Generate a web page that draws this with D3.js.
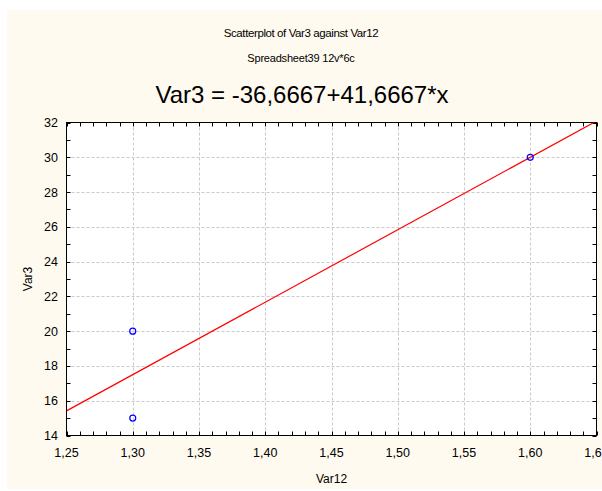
<!DOCTYPE html>
<html>
<head>
<meta charset="utf-8">
<script src="https://cdn.jsdelivr.net/npm/d3@7"></script>
<style>
    body { margin: 0; background: #fff; }
    text { font-family: Arial, "Liberation Sans", sans-serif; }
</style>
</head>
<body>
<div id="chart"></div>
<script>
const var12 = [1.30, 1.30, 1.60];
const var3 = [15, 20, 30];
const intercept = -36.6667;
const slope = 41.6667;

const xTicks = [1.25, 1.30, 1.35, 1.40, 1.45, 1.50, 1.55, 1.60, 1.65];
const yTicks = [14, 16, 18, 20, 22, 24, 26, 28, 30, 32];

const points = var12.map((x, i) => ({ x: x, y: var3[i] }));

const width = 602, height = 491;
const plot = { left: 66.5, right: 596.5, top: 122.5, bottom: 435.5 };

const fmt = d3.format('.2f');
const comma = v => fmt(v).replace('.', ',');

const drawChart = () => {
    const svg = d3.select('#chart')
        .append('svg')
        .attr('width', width)
        .attr('height', height);

    // cream page behind the chart
    svg.append('rect')
        .attr('x', 7).attr('y', 10)
        .attr('width', width - 7).attr('height', 479)
        .style('fill', '#fefaef');

    const x = d3.scaleLinear().domain([1.25, 1.65]).range([plot.left, plot.right]);
    const y = d3.scaleLinear().domain([14, 32]).range([plot.bottom, plot.top]);

    svg.append('rect')
        .attr('x', plot.left).attr('y', plot.top)
        .attr('width', plot.right - plot.left).attr('height', plot.bottom - plot.top)
        .style('fill', '#fff');

    // grid
    svg.selectAll('.gx')
        .data(xTicks.slice(1, -1))
        .enter().append('line')
        .attr('x1', d => Math.round(x(d)) + 0.5).attr('x2', d => Math.round(x(d)) + 0.5)
        .attr('y1', plot.top).attr('y2', plot.bottom)
        .style('stroke', '#cacaca').style('stroke-dasharray', '3,2');

    svg.selectAll('.gy')
        .data(yTicks.slice(1, -1))
        .enter().append('line')
        .attr('y1', d => Math.round(y(d)) + 0.5).attr('y2', d => Math.round(y(d)) + 0.5)
        .attr('x1', plot.left).attr('x2', plot.right)
        .style('stroke', '#cacaca').style('stroke-dasharray', '3,2');

    // inside ticks, minor and major
    const xMinor = d3.range(125, 166, 1).map(v => v / 100);
    const yMinor = d3.range(14, 33, 1);
    const tick = 4;

    [[plot.bottom, -tick], [plot.top, tick]].forEach(([yy, dy]) => {
        svg.append('g').selectAll('line')
            .data(xMinor)
            .enter().append('line')
            .attr('x1', d => Math.round(x(d)) + 0.5).attr('x2', d => Math.round(x(d)) + 0.5)
            .attr('y1', yy).attr('y2', yy + dy)
            .style('stroke', '#000');
    });

    [[plot.left, tick], [plot.right, -tick]].forEach(([xx, dx]) => {
        svg.append('g').selectAll('line')
            .data(yMinor)
            .enter().append('line')
            .attr('y1', d => Math.round(y(d)) + 0.5).attr('y2', d => Math.round(y(d)) + 0.5)
            .attr('x1', xx).attr('x2', xx + dx)
            .style('stroke', '#000');
    });

    // frame
    svg.append('rect')
        .attr('x', plot.left).attr('y', plot.top)
        .attr('width', plot.right - plot.left).attr('height', plot.bottom - plot.top)
        .style('fill', 'none').style('stroke', '#000');

    // regression line, clipped to the plot
    svg.append('clipPath').attr('id', 'clip')
        .append('rect')
        .attr('x', plot.left).attr('y', plot.top)
        .attr('width', plot.right - plot.left).attr('height', plot.bottom - plot.top);

    const fit = v => intercept + slope * v;
    svg.append('line')
        .attr('clip-path', 'url(#clip)')
        .attr('x1', x(1.25)).attr('y1', y(fit(1.25)))
        .attr('x2', x(1.65)).attr('y2', y(fit(1.65)))
        .style('stroke', '#ff0000')
        .style('stroke-width', 1.2);

    svg.selectAll('.pt')
        .data(points)
        .enter().append('circle')
        .attr('cx', d => x(d.x))
        .attr('cy', d => y(d.y))
        .attr('r', 3)
        .style('fill', 'none')
        .style('stroke', '#0000ff')
        .style('stroke-width', 1.2);

    // tick labels (the last one runs off the page, as in the original)
    svg.selectAll('.xl')
        .data(xTicks)
        .enter().append('text')
        .attr('x', d => x(d))
        .attr('y', 457)
        .attr('text-anchor', 'middle')
        .style('font-size', '12.5px')
        .text(d => comma(d));

    svg.selectAll('.yl')
        .data(yTicks)
        .enter().append('text')
        .attr('x', 58)
        .attr('y', d => y(d) + 4.5)
        .attr('text-anchor', 'end')
        .style('font-size', '12.5px')
        .text(d => d);

    // axis titles
    svg.append('text')
        .attr('x', (plot.left + plot.right) / 2)
        .attr('y', 483)
        .attr('text-anchor', 'middle')
        .style('font-size', '12px')
        .text('Var12');

    svg.append('text')
        .attr('transform', `translate(32,${(plot.top + plot.bottom) / 2}) rotate(-90)`)
        .attr('text-anchor', 'middle')
        .style('font-size', '12px')
        .text('Var3');

    // titles
    svg.append('text')
        .attr('x', 301).attr('y', 37)
        .attr('text-anchor', 'middle')
        .style('font-size', '11.5px')
        .style('letter-spacing', '-0.4px')
        .text('Scatterplot of Var3 against Var12');

    svg.append('text')
        .attr('x', 301).attr('y', 62)
        .attr('text-anchor', 'middle')
        .style('font-size', '11px')
        .style('letter-spacing', '-0.2px')
        .text('Spreadsheet39 12v*6c');

    svg.append('text')
        .attr('x', 302).attr('y', 103)
        .attr('text-anchor', 'middle')
        .style('font-size', '24px')
        .text('Var3 = -36,6667+41,6667*x');
};

drawChart();
</script>
</body>
</html>
